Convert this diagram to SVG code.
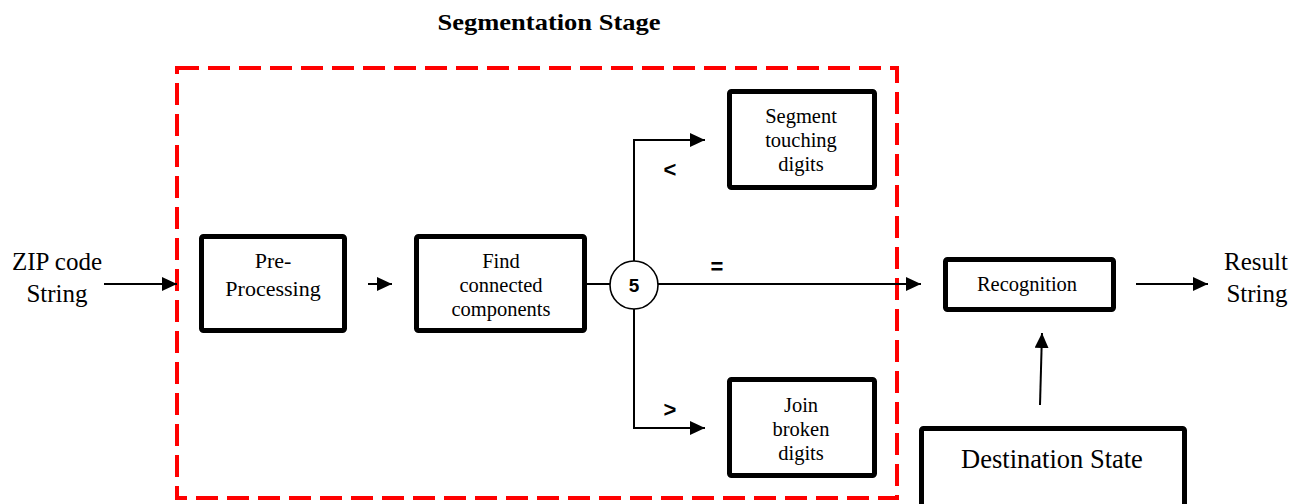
<svg xmlns="http://www.w3.org/2000/svg" width="1302" height="504" viewBox="0 0 1302 504">
  <style>
    .box { fill: #ffffff; stroke: #000000; stroke-width: 5; }
    .lbl { font-family: "Liberation Serif", "Times New Roman", serif; fill: #000000; text-anchor: middle; }
    .sym { font-family: "Liberation Sans", Arial, sans-serif; font-weight: bold; fill: #000000; text-anchor: middle; }
    .wire { fill: none; stroke: #000000; stroke-width: 2; }
    .arrow { fill: none; stroke: #000000; stroke-width: 2; marker-end: url(#head); }
  </style>
  <defs>
    <marker id="head" markerUnits="userSpaceOnUse" markerWidth="16" markerHeight="14" refX="15" refY="7" orient="auto">
      <path d="M0,0 L15,7 L0,14 Z" fill="#000000"/>
    </marker>
  </defs>

  <rect width="1302" height="504" fill="#ffffff"/>

  <!-- Segmentation stage boundary -->
  <g id="segmentation-stage">
    <rect x="177" y="68" width="720" height="430" fill="none" stroke="#ff0000" stroke-width="4" stroke-dasharray="22 9"/>
    <text class="lbl" x="549" y="30" font-size="24" font-weight="bold" textLength="223" lengthAdjust="spacingAndGlyphs">Segmentation Stage</text>
  </g>

  <!-- Free labels -->
  <g id="input-label">
    <text class="lbl" x="57" y="270" font-size="25">ZIP code</text>
    <text class="lbl" x="57" y="302" font-size="25">String</text>
  </g>
  <g id="output-label">
    <text class="lbl" x="1256" y="270" font-size="25">Result</text>
    <text class="lbl" x="1257" y="302" font-size="25">String</text>
  </g>

  <!-- Process boxes -->
  <g id="pre-processing">
    <rect class="box" x="201.5" y="236.5" width="143" height="94" rx="2"/>
    <text class="lbl" x="273" y="268" font-size="22">Pre-</text>
    <text class="lbl" x="273" y="296" font-size="22">Processing</text>
  </g>
  <g id="find-components">
    <rect class="box" x="416.5" y="236.5" width="168" height="94" rx="2"/>
    <text class="lbl" x="501" y="268" font-size="20.5">Find</text>
    <text class="lbl" x="501" y="292" font-size="20.5">connected</text>
    <text class="lbl" x="501" y="316" font-size="20.5">components</text>
  </g>
  <g id="count-check">
    <circle cx="634" cy="285" r="24" fill="#ffffff" stroke="#000000" stroke-width="1.6"/>
    <text class="sym" x="634" y="292" font-size="19">5</text>
  </g>
  <g id="segment-touching">
    <rect class="box" x="729.5" y="91.5" width="145" height="96" rx="2"/>
    <text class="lbl" x="801" y="123" font-size="20.5">Segment</text>
    <text class="lbl" x="801" y="147" font-size="20.5">touching</text>
    <text class="lbl" x="801" y="171" font-size="20.5">digits</text>
  </g>
  <g id="join-broken">
    <rect class="box" x="729.5" y="379.5" width="145" height="96" rx="2"/>
    <text class="lbl" x="801" y="412" font-size="20.5">Join</text>
    <text class="lbl" x="801" y="436" font-size="20.5">broken</text>
    <text class="lbl" x="801" y="460" font-size="20.5">digits</text>
  </g>
  <g id="recognition">
    <rect class="box" x="945.5" y="259.5" width="168" height="50" rx="2"/>
    <text class="lbl" x="1027" y="291" font-size="20.5">Recognition</text>
  </g>
  <g id="destination-state">
    <rect class="box" x="921.5" y="428.5" width="263" height="90" rx="2"/>
    <text class="lbl" x="1052" y="468" font-size="26.5">Destination State</text>
  </g>

  <!-- Connectors -->
  <g id="connectors">
    <line class="arrow" x1="104" y1="284" x2="177" y2="284"/>
    <line class="arrow" x1="368" y1="284" x2="392" y2="284"/>
    <line class="wire" x1="587" y1="284" x2="610" y2="284"/>
    <polyline class="arrow" points="634,261 634,140 705,140"/>
    <polyline class="arrow" points="634,309 634,428 705,428"/>
    <line class="arrow" x1="658" y1="284" x2="921" y2="284"/>
    <line class="arrow" x1="1136" y1="284" x2="1208" y2="284"/>
    <line class="arrow" x1="1040" y1="405" x2="1042" y2="333"/>
    <text class="sym" x="670" y="177" font-size="22">&lt;</text>
    <text class="sym" x="670" y="417" font-size="22">&gt;</text>
    <text class="sym" x="717" y="274" font-size="22">=</text>
  </g>
</svg>
